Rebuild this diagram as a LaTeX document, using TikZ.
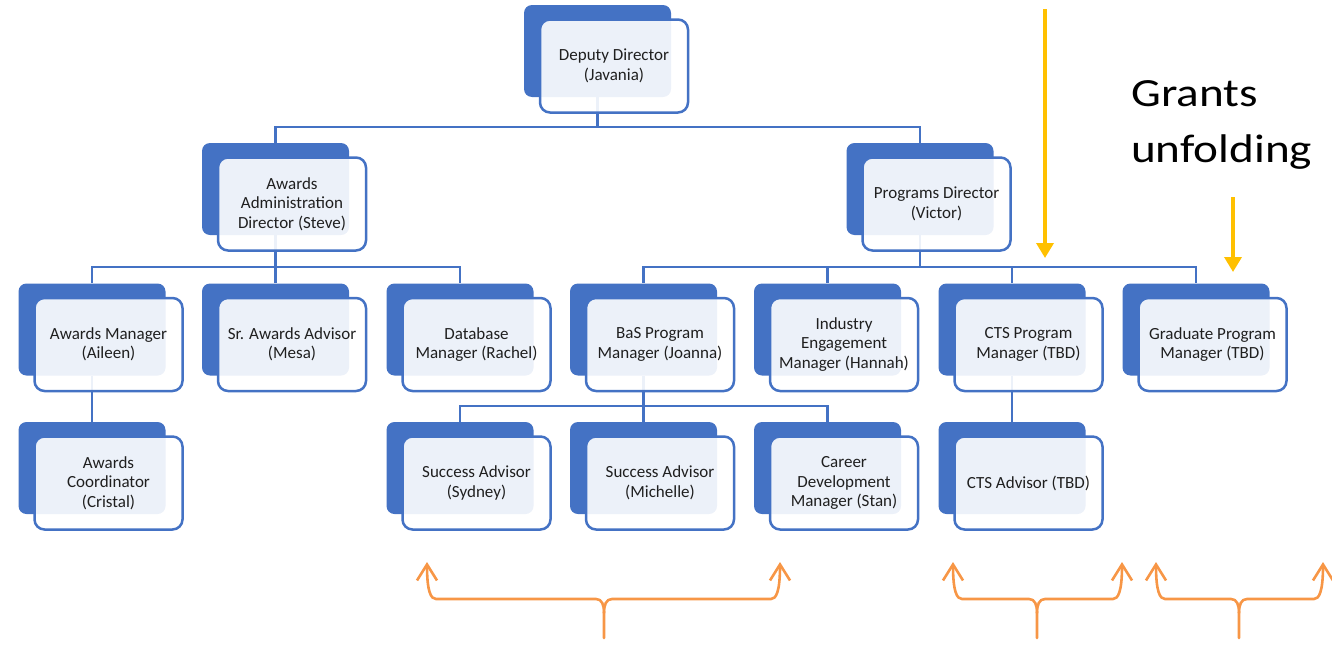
\documentclass[tikz,border=0pt]{standalone}
\usepackage{fontspec}
\setmainfont{Carlito}
\newfontfamily\grantsfont[FakeStretch=1.18]{Carlito}
\usetikzlibrary{arrows.meta,backgrounds}
\definecolor{orgblue}{HTML}{4472C4}
\definecolor{gold}{HTML}{FFC000}
\definecolor{braceorange}{HTML}{F79646}
\definecolor{txt}{HTML}{1F1F1F}
\newcommand\orgbox[4]{%
  \node[backbox] (#1-b) at (#2,#3) {};
  \node[frontbox] (#1) at ({#2+16.5},{#3+15}) {#4};
}
\newcommand\orangebrace[4]{%
  \coordinate (#4-l) at (#1,562);
  \coordinate (#4-r) at (#3,562);
  \coordinate (#4-m) at (#2,613);
  \coordinate (#4-e) at (#2,638);
  \draw[bracearrow, {Straight Barb[length=16pt,width=20pt]}-] (#4-l) .. controls +(0,30) and +(-5,0) .. ({#1+9},599) -- ({#2-8},599) .. controls +(6,0) and +(0,-8) .. (#4-m) -- (#4-e);
  \draw[bracearrow, -{Straight Barb[length=16pt,width=20pt]}] (#4-m) .. controls +(0,-8) and +(-6,0) .. ({#2+8},599) -- ({#3-9},599) .. controls +(5,0) and +(0,30) .. (#4-r);
}
\begin{document}
\begin{tikzpicture}[x=1pt,y=-1pt,
  backbox/.style={fill=orgblue, rounded corners=8pt, minimum width=147pt, minimum height=92pt, inner sep=0pt},
  frontbox/.style={draw=orgblue, line width=2.5pt, fill=white, fill opacity=0.9, text opacity=1,
    rounded corners=10pt, minimum width=148pt, minimum height=93pt, inner sep=0pt, align=center,
    font=\fontsize{17}{19.5}\selectfont, text=txt},
  conn/.style={draw=orgblue, line width=2.2pt},
  goldarrow/.style={draw=gold, line width=3.5pt, -{Triangle[length=15pt,width=17pt]}},
  bracearrow/.style={draw=braceorange, line width=2.6pt, line cap=round, line join=round}]
\useasboundingbox (0,0) rectangle (1332,645);

% row 0
\orgbox{dd}{597.5}{51}{Deputy Director\\(Javania)}
% row 1
\orgbox{aad}{275.5}{189}{Awards\\Administration\\Director (Steve)}
\orgbox{pd}{920}{189}{Programs Director\\(Victor)}
% row 2
\orgbox{am}{92}{329.5}{Awards Manager\\(Aileen)}
\orgbox{sa}{275.5}{329.5}{Sr. Awards Advisor\\(Mesa)}
\orgbox{db}{460}{329.5}{Database\\Manager (Rachel)}
\orgbox{bas}{643.5}{329.5}{BaS Program\\Manager (Joanna)}
\orgbox{ie}{827.5}{329.5}{Industry\\Engagement\\Manager (Hannah)}
\orgbox{cts}{1012}{329.5}{CTS Program\\Manager (TBD)}
\orgbox{gp}{1196}{329.5}{Graduate Program\\Manager (TBD)}
% row 3
\orgbox{ac}{92}{468}{Awards\\Coordinator\\(Cristal)}
\orgbox{sy}{460}{468}{Success Advisor\\(Sydney)}
\orgbox{mi}{643.5}{468}{Success Advisor\\(Michelle)}
\orgbox{cd}{827.5}{468}{Career\\Development\\Manager (Stan)}
\orgbox{ca}{1012}{468}{CTS Advisor (TBD)}

\begin{scope}[on background layer]
  \draw[conn] (dd-b.south) -- ++(0,30) -| (aad-b.north);
  \draw[conn] (dd-b.south) -- ++(0,30) -| (pd-b.north);
  \foreach \c in {am,sa,db} \draw[conn] (aad-b.south) -- ++(0,32) -| (\c-b.north);
  \foreach \c in {bas,ie,cts,gp} \draw[conn] (pd-b.south) -- ++(0,32) -| (\c-b.north);
  \draw[conn] (am-b.south) -- (ac-b.north);
  \foreach \c in {sy,mi,cd} \draw[conn] (bas-b.south) -- ++(0,30) -| (\c-b.north);
  \draw[conn] (cts-b.south) -- (ca-b.north);
\end{scope}

% yellow arrows
\coordinate (ya1) at (1045,9);
\coordinate (ya1e) at (1045,258);
\coordinate (ya2) at (1233,197);
\coordinate (ya2e) at (1233,272);
\draw[goldarrow] (ya1) -- (ya1e);
\draw[goldarrow] (ya2) -- (ya2e);

\node[anchor=north west, inner sep=0pt, align=left, font=\grantsfont\fontsize{40}{56}\selectfont] (grants) at (1131,80) {Grants\\unfolding};

% orange braces
\orangebrace{427}{604}{780}{br1}
\orangebrace{953}{1037}{1122}{br2}
\orangebrace{1156}{1239}{1323}{br3}
\end{tikzpicture}
\end{document}
